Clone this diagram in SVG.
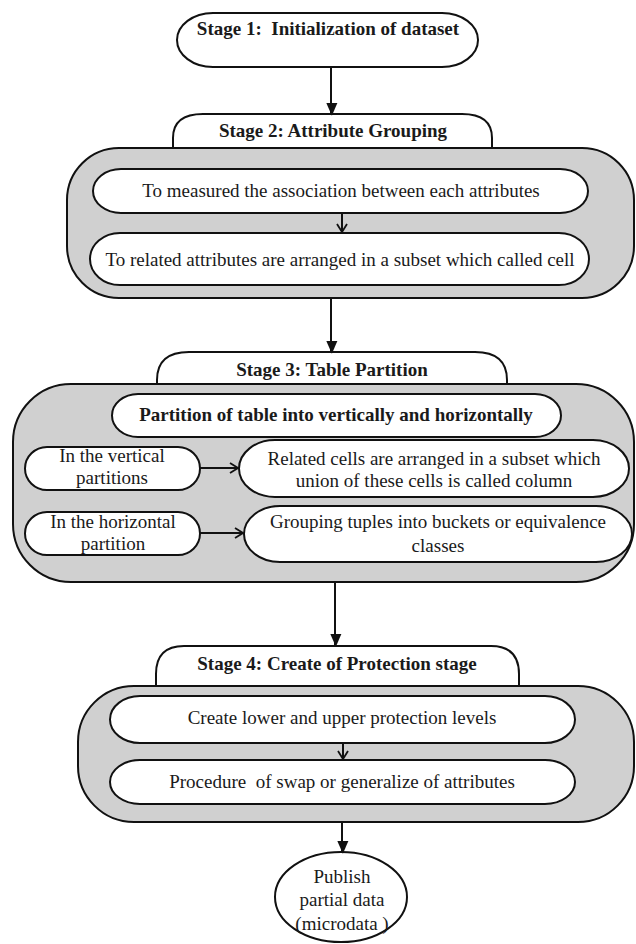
<svg xmlns="http://www.w3.org/2000/svg" width="636" height="944" viewBox="0 0 636 944">
<style>
.b{fill:#fff;stroke:#111;stroke-width:2}
.g{fill:#d0d0d0;stroke:#111;stroke-width:2}
.t{font-family:'Liberation Serif','Times New Roman',Times,'DejaVu Serif',serif;font-size:19px;fill:#1a1a1a;text-anchor:middle}
.bt{font-weight:bold}
.c{stroke:#111;stroke-width:2;fill:none}
</style>
<defs>
<marker id="fa" markerWidth="13" markerHeight="15" refX="13" refY="7.5" orient="auto" markerUnits="userSpaceOnUse" viewBox="0 0 15 13">
<path d="M0,0 L15,6.5 L0,13 Z" fill="#111"/>
</marker>
<marker id="oa" markerWidth="10" markerHeight="12" refX="9" refY="6" orient="auto" markerUnits="userSpaceOnUse" viewBox="0 0 10 12">
<path d="M1,1 L9,6 L1,11" fill="none" stroke="#111" stroke-width="1.8"/>
</marker>
</defs>

<g id="stage1">
<rect class="b" x="177" y="13" width="301" height="54" rx="36" ry="27"/>
<text class="t bt" x="328" y="35" xml:space="preserve">Stage 1:  Initialization of dataset</text>
</g>

<g id="stage2">
<path class="b" d="M173,148 L173,138 Q173,114 203,114 L462,114 Q492,114 492,138 L492,148"/>
<rect class="g" x="67" y="148" width="567" height="150" rx="52" ry="52"/>
<text class="t bt" x="333" y="137">Stage 2: Attribute Grouping</text>
</g>
<g id="s2a">
<rect class="b" x="93" y="169" width="495" height="44" rx="28" ry="22"/>
<text class="t" x="341" y="197">To measured the association between each attributes</text>
</g>
<g id="s2b">
<rect class="b" x="90" y="233" width="499" height="52" rx="30" ry="26"/>
<text class="t" x="340" y="266">To related attributes are arranged in a subset which called cell</text>
</g>

<g id="stage3">
<path class="b" d="M157,384 L157,380 Q157,352 189,352 L475,352 Q507,352 507,380 L507,384"/>
<rect class="g" x="13" y="384" width="621" height="198" rx="58" ry="58"/>
<text class="t bt" x="332" y="376">Stage 3: Table Partition</text>
</g>
<g id="s3p">
<rect class="b" x="112" y="394" width="449" height="43" rx="26" ry="21.5"/>
<text class="t bt" x="336" y="421">Partition of table into vertically and horizontally</text>
</g>
<g id="s3v">
<rect class="b" x="25" y="447" width="175" height="43" rx="22" ry="21.5"/>
<text class="t" x="112" y="462">In the vertical</text>
<text class="t" x="112" y="484">partitions</text>
</g>
<g id="s3r">
<rect class="b" x="239" y="440" width="390" height="57" rx="36" ry="28.5"/>
<text class="t" x="434" y="465">Related cells are arranged in a subset which</text>
<text class="t" x="434" y="487">union of these cells is called column</text>
</g>
<g id="s3h">
<rect class="b" x="25" y="512" width="175" height="43" rx="22" ry="21.5"/>
<text class="t" x="113" y="528">In the horizontal</text>
<text class="t" x="113" y="550">partition</text>
</g>
<g id="s3g">
<rect class="b" x="244" y="506" width="388" height="56" rx="36" ry="28"/>
<text class="t" x="438" y="528">Grouping tuples into buckets or equivalence</text>
<text class="t" x="438" y="552">classes</text>
</g>

<g id="stage4">
<path class="b" d="M156,686 L156,674 Q156,646 184,646 L491,646 Q519,646 519,674 L519,686"/>
<rect class="g" x="78" y="686" width="556" height="136" rx="56" ry="56"/>
<text class="t bt" x="337" y="670">Stage 4: Create of Protection stage</text>
</g>
<g id="s4a">
<rect class="b" x="110" y="696" width="465" height="47" rx="30" ry="23.5"/>
<text class="t" x="342" y="724">Create lower and upper protection levels</text>
</g>
<g id="s4b">
<rect class="b" x="110" y="760" width="465" height="44" rx="30" ry="22"/>
<text class="t" x="342" y="788" xml:space="preserve">Procedure  of swap or generalize of attributes</text>
</g>

<g id="publish">
<ellipse class="b" cx="341" cy="897" rx="66" ry="45"/>
<text class="t" x="342" y="883">Publish</text>
<text class="t" x="342" y="906">partial data</text>
<text class="t" x="342" y="930" xml:space="preserve">(microdata )</text>
</g>

<g id="connectors">
<line class="c" x1="331" y1="67" x2="331" y2="114" marker-end="url(#fa)"/>
<line class="c" x1="342" y1="213" x2="342" y2="232" marker-end="url(#oa)"/>
<line class="c" x1="331" y1="298" x2="331" y2="352" marker-end="url(#fa)"/>
<line class="c" x1="200" y1="468" x2="238" y2="468" marker-end="url(#oa)"/>
<line class="c" x1="200" y1="533" x2="243" y2="533" marker-end="url(#oa)"/>
<line class="c" x1="335" y1="582" x2="335" y2="645" marker-end="url(#fa)"/>
<line class="c" x1="343" y1="743" x2="343" y2="759" marker-end="url(#oa)"/>
<line class="c" x1="342" y1="822" x2="342" y2="852" marker-end="url(#fa)"/>
</g>
</svg>
